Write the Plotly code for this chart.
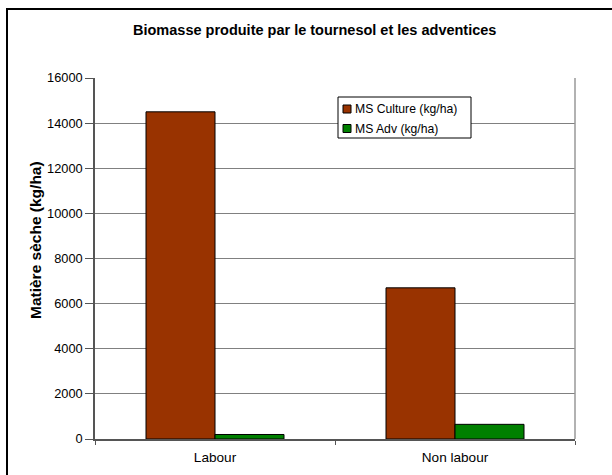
import plotly.graph_objects as go

# Dry-matter biomass (kg/ha) by tillage system
categories = ["Labour", "Non labour"]
series_names = ["MS Culture (kg/ha)", "MS Adv (kg/ha)"]
ms_culture = [14500, 6700]
ms_adv = [200, 650]
y_ticks = [0, 2000, 4000, 6000, 8000, 10000, 12000, 14000, 16000]
y_tick_text = [str(v) for v in y_ticks]
colors = ["#993300", "#008000"]

W, H = 612, 475
L, R, T, B = 95, 575, 78, 439  # plot area in pixels


def px(x):
    return (x - L) / (R - L)


def py(y):
    return (B - y) / (B - T)


FONT = "Liberation Sans, Arial, sans-serif"

fig = go.Figure()
for name, vals, col in zip(series_names, [ms_culture, ms_adv], colors):
    fig.add_trace(go.Bar(
        x=categories, y=vals, name=name, showlegend=False,
        marker=dict(color=col, line=dict(color="black", width=1)),
    ))

# compact boxed legend drawn with shapes + text
leg_x0, leg_y0, leg_x1, leg_y1 = 338, 97, 471, 138
row_y = [109, 128.5]
shapes = [
    dict(type="rect", xref="paper", yref="paper",
         x0=px(leg_x0), x1=px(leg_x1), y0=py(leg_y1), y1=py(leg_y0),
         line=dict(color="black", width=1), fillcolor="white"),
]
annotations = []
for name, col, yc in zip(series_names, colors, row_y):
    shapes.append(dict(type="rect", xref="paper", yref="paper",
                       x0=px(343), x1=px(351), y0=py(yc + 4), y1=py(yc - 4),
                       line=dict(color="black", width=1), fillcolor=col))
    annotations.append(dict(text=name, x=px(353), y=py(yc), xref="paper", yref="paper",
                            showarrow=False, xanchor="left", yanchor="middle",
                            font=dict(size=12.2)))

annotations += [
    dict(text="<b>Biomasse produite par le tournesol et les adventices</b>",
         x=px(314), y=py(30), xref="paper", yref="paper",
         showarrow=False, font=dict(size=14.5), xanchor="center", yanchor="middle"),
    dict(text="<b>Matière sèche (kg/ha)</b>",
         x=px(35), y=py(240), xref="paper", yref="paper", textangle=-90,
         showarrow=False, font=dict(size=15.5), xanchor="center", yanchor="middle"),
]

shapes += [
    # chart frame
    dict(type="rect", xref="paper", yref="paper",
         x0=px(7), y0=py(480), x1=px(620), y1=py(9),
         line=dict(color="black", width=2), layer="below"),
    # right edge of plot area
    dict(type="line", xref="paper", yref="paper",
         x0=1, x1=1, y0=0, y1=1, line=dict(color="#999999", width=1.5)),
]

fig.update_layout(
    width=W, height=H,
    margin=dict(l=L, r=W - R, t=T, b=H - B, autoexpand=False),
    paper_bgcolor="white", plot_bgcolor="white",
    barmode="group", bargap=0.425, bargroupgap=0,
    font=dict(family=FONT, size=13, color="black"),
    showlegend=False,
    xaxis=dict(
        type="category", showgrid=False, showline=True, linecolor="#555555",
        linewidth=1.5, ticks="outside", tickson="boundaries", ticklen=4,
        tickcolor="#555555", zeroline=False, ticklabelstandoff=5,
        tickfont=dict(size=13.6),
    ),
    yaxis=dict(
        range=[0, 16000], tickvals=y_ticks, ticktext=y_tick_text,
        showgrid=True, gridcolor="#808080", gridwidth=1,
        showline=True, linecolor="#555555", linewidth=1.5,
        ticks="outside", ticklen=8, tickcolor="#555555", zeroline=False,
        tickfont=dict(size=12.8),
    ),
    annotations=annotations,
    shapes=shapes,
)

fig.write_html("out.html")
